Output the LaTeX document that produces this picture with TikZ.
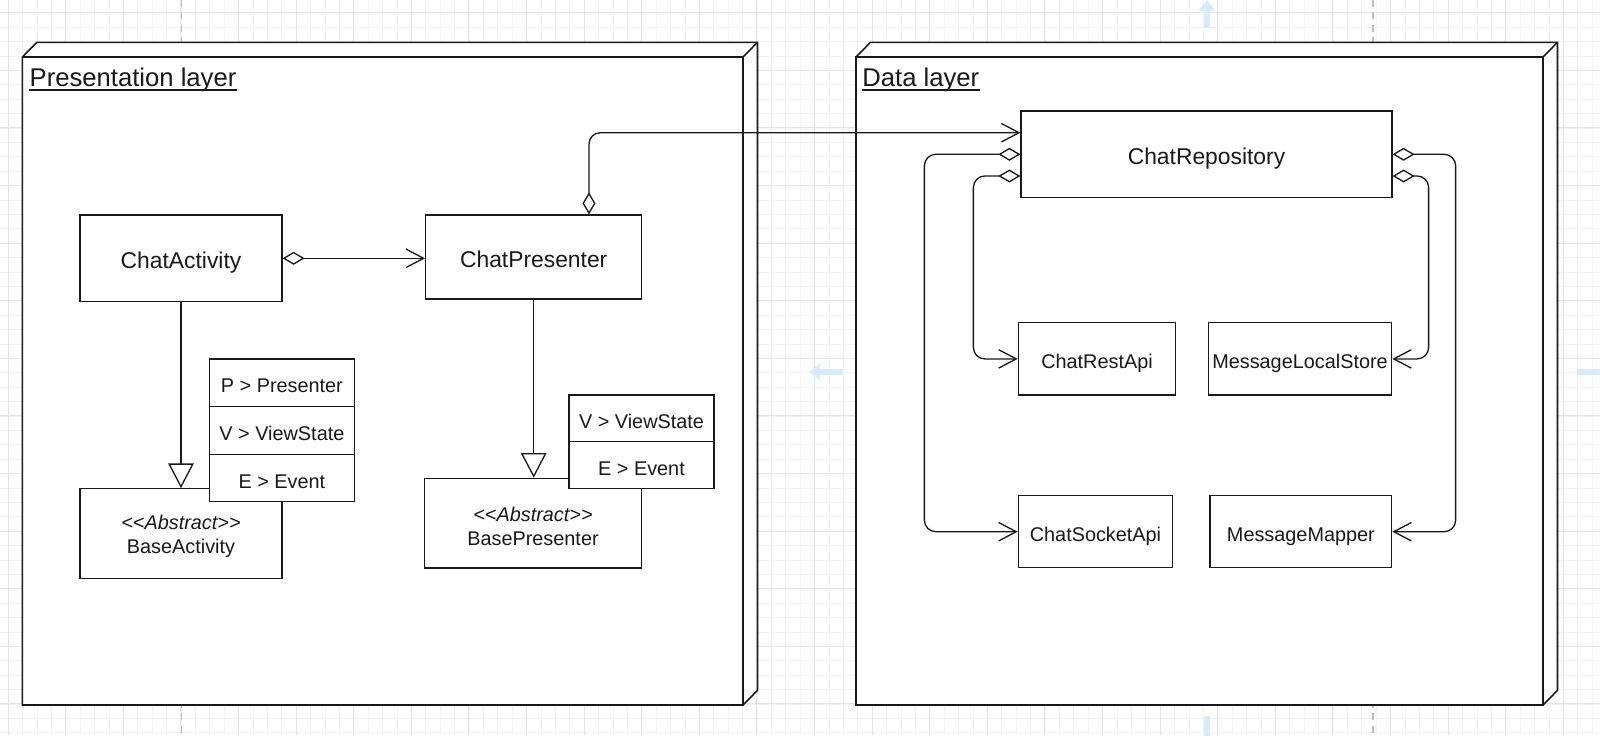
\documentclass[tikz,border=0pt]{standalone}
\usepackage{fontspec}
\setmainfont{Liberation Sans}
\usetikzlibrary{arrows.meta}
\definecolor{gridminor}{RGB}{243,243,243}
\definecolor{gridmajor}{RGB}{229,229,229}
\definecolor{pagebreak}{RGB}{190,190,190}
\definecolor{hint}{RGB}{214,236,250}
\definecolor{ink}{RGB}{25,25,25}
\begin{document}
\begin{tikzpicture}[x=0.02cm,y=-0.02cm,
  frame/.style={draw=ink, line width=0.9pt, fill=white, line join=miter},
  boxbase/.style={draw=ink, line width=0.75pt, fill=white, inner sep=0pt, text=ink},
  bigfont/.style={font=\fontsize{13}{15.6}\selectfont},
  smallfont/.style={font=\fontsize{11.3}{13.4}\selectfont},
  box/.style={boxbase, bigfont, text height=0.5cm, text depth=0.1cm},
  smallbox/.style={boxbase, smallfont, text height=0.5cm, text depth=0.1cm},
  absbox/.style={boxbase},
  abstext/.style={smallfont, text=ink, inner sep=0pt, align=center, yshift=-0.06cm},
  conn/.style={draw=ink, line width=0.75pt, rounded corners=6.5pt},
  agg/.style={conn, {Diamond[open,length=12.5pt,width=7.4pt]}-{Straight Barb[length=10pt,width=10.5pt]}},
  gen/.style={draw=ink, line width=0.75pt, -{Triangle[open,length=14pt,width=14.5pt]}},
  hintarrow/.style={draw=hint, line width=3.4pt, -{Triangle[length=6pt,width=9pt]}},
  layerlabel/.style={anchor=base west, inner sep=0pt, text=ink, font=\fontsize{14.6}{17}\selectfont}
]
\useasboundingbox (0,0) rectangle (1600,735);
\fill[white] (0,0) rectangle (1600,735);
% background grid
\begin{scope}
\clip (0,0) rectangle (1600,735);
\foreach \i in {0,...,112} { \draw[gridminor, line width=0.4pt] ({-6.3+\i*14.4},0) -- ({-6.3+\i*14.4},735); }
\foreach \i in {0,...,52} { \draw[gridminor, line width=0.4pt] (0,{-1.7+\i*14.4}) -- (1600,{-1.7+\i*14.4}); }
\foreach \i in {0,...,28} { \draw[gridmajor, line width=0.5pt] ({8.1+\i*57.6},0) -- ({8.1+\i*57.6},735); }
\foreach \i in {0,...,13} { \draw[gridmajor, line width=0.5pt] (0,{12.7+\i*57.6}) -- (1600,{12.7+\i*57.6}); }
\draw[pagebreak, line width=0.6pt, dash pattern=on 4pt off 3pt] (181.7,0) -- (181.7,735);
\draw[pagebreak, line width=0.6pt, dash pattern=on 4pt off 3pt] (1373,0) -- (1373,735);
\draw[hintarrow] (1207,28) -- (1207,0);
\draw[hintarrow] (842.7,372) -- (809,372);
\draw[hintarrow] (1577,372) -- (1612,372);
\draw[hintarrow] (1207,716) -- (1207,748);
\end{scope}

% Presentation layer frame
\path[frame] (22.4,57) -- (36.9,42.3) -- (757.5,42.3) -- (757.5,690.3) -- (743,705) -- (22.4,705) -- cycle;
\draw[frame, fill=none] (22.4,57) rectangle (743,705);
\draw[frame, fill=none] (743,57) -- (757.5,42.3);
\node[layerlabel] (pl) at (29.3,86) {Presentation layer};
\draw[ink, line width=0.8pt] ([yshift=-2.3pt]pl.base west) -- ([yshift=-2.3pt]pl.base east);

% Data layer frame
\path[frame] (856,57) -- (870.5,42.3) -- (1557.5,42.3) -- (1557.5,690.3) -- (1543,705) -- (856,705) -- cycle;
\draw[frame, fill=none] (856,57) rectangle (1543,705);
\draw[frame, fill=none] (1543,57) -- (1557.5,42.3);
\node[layerlabel] (dl) at (862,86) {Data layer};
\draw[ink, line width=0.8pt] ([yshift=-2.3pt]dl.base west) -- ([yshift=-2.3pt]dl.base east);

% Presentation layer classes
\node[box, minimum width=4.04cm, minimum height=1.734cm] (ca) at (181,258.3) {ChatActivity};
\node[box, minimum width=4.322cm, minimum height=1.68cm] (cp) at (533.7,257) {ChatPresenter};
\node[absbox, minimum width=4.04cm, minimum height=1.792cm,
  label={[abstext]center:\textit{<\kern0pt<Abstract>\kern0pt>}\\BaseActivity}] (ba) at (181,533.5) {};
\node[smallbox, minimum width=2.904cm, minimum height=0.954cm] (pa1) at (281.9,382.85) {P > Presenter};
\node[smallbox, minimum width=2.904cm, minimum height=0.952cm] (pa2) at (281.9,430.5) {V > ViewState};
\node[smallbox, minimum width=2.904cm, minimum height=0.948cm] (pa3) at (281.9,478) {E > Event};
\node[absbox, minimum width=4.35cm, minimum height=1.794cm,
  label={[abstext]center:\textit{<\kern0pt<Abstract>\kern0pt>}\\BasePresenter}] (bp) at (533,523.2) {};
\node[smallbox, minimum width=2.9cm, minimum height=0.934cm] (pb1) at (641.5,418.35) {V > ViewState};
\node[smallbox, minimum width=2.9cm, minimum height=0.932cm] (pb2) at (641.5,465) {E > Event};

% Data layer classes
\node[box, minimum width=7.42cm, minimum height=1.734cm] (cr) at (1206.5,154.3) {ChatRepository};
\node[smallbox, minimum width=3.148cm, minimum height=1.446cm] (cra) at (1097,358.9) {ChatRestApi};
\node[smallbox, minimum width=3.668cm, minimum height=1.446cm] (mls) at (1300,358.9) {MessageLocalStore};
\node[smallbox, minimum width=3.088cm, minimum height=1.44cm] (csa) at (1095.5,531.7) {ChatSocketApi};
\node[smallbox, minimum width=3.634cm, minimum height=1.44cm] (mm) at (1300.9,531.7) {MessageMapper};

% connectors
\draw[gen] (ca.south) -- (ca.south |- ba.north);
\draw[gen] (cp.south) -- (cp.south |- bp.north);
\draw[agg] (ca.east) -- (ca.east -| cp.west);
\draw[agg] ([xshift=1.106cm]cp.north) |- ([yshift=0.432cm]cr.west);
\draw[agg] (cr.west) -- ++(-96,0) |- (csa.west);
\draw[agg] ([yshift=-0.434cm]cr.west) -- ++(-47,0) |- (cra.west);
\draw[agg] (cr.east) -- ++(63,0) |- (mm.east);
\draw[agg] ([yshift=-0.434cm]cr.east) -- ++(36,0) |- (mls.east);
\end{tikzpicture}
\end{document}
